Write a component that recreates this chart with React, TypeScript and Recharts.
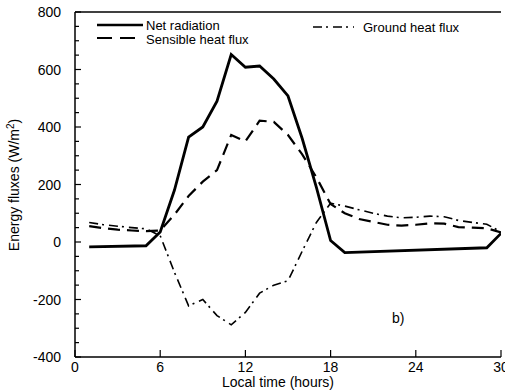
import React from "react";
import { LineChart, Line, XAxis, YAxis, ReferenceLine } from "recharts";

// hours and W/m2
const netHours = [1, 5, 6, 7, 8, 9, 10, 11, 12, 13, 14, 15, 16, 17, 18, 19, 29, 30];
const netValues = [-17, -13, 35, 180, 365, 400, 490, 652, 608, 612, 567, 508, 360, 190, 5, -37, -20, 30];

const sensHours = [1, 2, 3, 4, 5, 6, 7, 8, 9, 10, 11, 12, 13, 14, 15, 16, 17, 18, 19, 20, 21, 22, 23, 24, 25, 26, 27, 28, 29, 30];
const sensValues = [55, 48, 43, 40, 38, 40, 95, 160, 210, 250, 372, 350, 422, 418, 372, 305, 225, 132, 100, 80, 70, 60, 57, 60, 65, 64, 52, 50, 48, 33];

const groundHours = [1, 2, 3, 4, 5, 6, 7, 8, 9, 10, 11, 12, 13, 14, 15, 16, 17, 18, 19, 20, 21, 22, 23, 24, 25, 26, 27, 28, 29, 30];
const groundValues = [68, 60, 55, 50, 46, 22, -105, -222, -200, -256, -288, -245, -178, -150, -135, -32, 68, 135, 125, 112, 100, 90, 84, 86, 90, 88, 75, 68, 62, 35];

const xTicks = [0, 6, 12, 18, 24, 30];
const yTicks = [
  -400, -350, -300, -250, -200, -150, -100, -50, 0, 50, 100, 150, 200,
  250, 300, 350, 400, 450, 500, 550, 600, 650, 700, 750, 800,
];

const toPoints = (hours: number[], values: number[]) => hours.map((h, i) => ({ h, v: values[i] }));

const netData = toPoints(netHours, netValues);
const sensData = toPoints(sensHours, sensValues);
const groundData = toPoints(groundHours, groundValues);

const FONT = "'Liberation Sans', Arial, Helvetica, sans-serif";
const DASH = "12 7";
const DASHDOT = "9 4 2 5";

const LeftTick = (props: any) => {
  const { x, y, payload } = props;
  const major = payload.value % 200 === 0;
  return (
    <g>
      <line x1={x} x2={x + (major ? 6 : 4)} y1={y} y2={y} stroke="#000" strokeWidth={1.2} />
      {major && (
        <text x={x - 14} y={y} dy={5} textAnchor="end" fontSize={14} fontFamily={FONT} fill="#000">
          {payload.value}
        </text>
      )}
    </g>
  );
};

const RightTick = (props: any) => {
  const { x, y, payload } = props;
  const major = payload.value % 200 === 0;
  return <line x1={x} x2={x - (major ? 6 : 4)} y1={y} y2={y} stroke="#000" strokeWidth={1.2} />;
};

const BottomTick = (props: any) => {
  const { x, y, payload } = props;
  return (
    <g>
      <line x1={x} x2={x} y1={y} y2={y - 7} stroke="#000" strokeWidth={1.2} />
      <text x={x} y={y} dy={15} textAnchor="middle" fontSize={14} fontFamily={FONT} fill="#000">
        {payload.value}
      </text>
    </g>
  );
};

export default function App() {
  return (
    <div style={{ position: "absolute", left: 0, top: 0, width: 505, height: 392, background: "#fff", overflow: "hidden" }}>
      <LineChart width={505} height={392} margin={{ top: 12, right: 4, bottom: 0, left: 0 }}>
        <XAxis
          dataKey="h"
          type="number"
          domain={[0, 30]}
          ticks={xTicks}
          interval={0}
          height={35}
          tickSize={0}
          tickMargin={0}
          tick={<BottomTick />}
          axisLine={{ stroke: "#000", strokeWidth: 1.5 }}
          tickLine={false}
          allowDataOverflow
        />
        <YAxis
          yAxisId="left"
          type="number"
          domain={[-400, 800]}
          ticks={yTicks}
          interval={0}
          width={75}
          tickSize={0}
          tickMargin={0}
          tick={<LeftTick />}
          axisLine={{ stroke: "#000", strokeWidth: 1.5 }}
          tickLine={false}
        />
        <YAxis
          yAxisId="right"
          orientation="right"
          type="number"
          domain={[-400, 800]}
          ticks={yTicks}
          interval={0}
          width={0}
          tickSize={0}
          tickMargin={0}
          tick={<RightTick />}
          axisLine={{ stroke: "#000", strokeWidth: 1.5 }}
          tickLine={false}
        />
        <ReferenceLine yAxisId="left" y={800} stroke="#000" strokeWidth={1.5} />
        <Line
          yAxisId="left"
          data={groundData}
          dataKey="v"
          type="linear"
          stroke="#000"
          strokeWidth={1.6}
          strokeDasharray={DASHDOT}
          dot={false}
          isAnimationActive={false}
        />
        <Line
          yAxisId="left"
          data={sensData}
          dataKey="v"
          type="linear"
          stroke="#000"
          strokeWidth={2.2}
          strokeDasharray={DASH}
          dot={false}
          isAnimationActive={false}
        />
        <Line
          yAxisId="left"
          data={netData}
          dataKey="v"
          type="linear"
          stroke="#000"
          strokeWidth={2.8}
          dot={false}
          isAnimationActive={false}
        />
      </LineChart>
      <svg width={505} height={392} style={{ position: "absolute", left: 0, top: 0, pointerEvents: "none" }}>
        <g fontFamily={FONT} fill="#000">
          <line x1={97} x2={143} y1={25} y2={25} stroke="#000" strokeWidth={2.6} />
          <text x={146} y={30} fontSize={13}>Net radiation</text>
          <line x1={97} x2={143} y1={38} y2={38} stroke="#000" strokeWidth={2.2} strokeDasharray="15 8" />
          <text x={146} y={44} fontSize={13}>Sensible heat flux</text>
          <line x1={313} x2={354} y1={27} y2={27} stroke="#000" strokeWidth={1.6} strokeDasharray={DASHDOT} />
          <text x={363} y={32} fontSize={13}>Ground heat flux</text>
          <text x={392} y={323} fontSize={14}>b)</text>
          <text x={278} y={387} fontSize={14} textAnchor="middle">Local time (hours)</text>
          <text x={19} y={185} fontSize={14} textAnchor="middle" transform="rotate(-90 19 185)">
            Energy fluxes (W/m<tspan dy={-5} fontSize={10}>2</tspan><tspan dy={5}>)</tspan>
          </text>
        </g>
      </svg>
    </div>
  );
}
